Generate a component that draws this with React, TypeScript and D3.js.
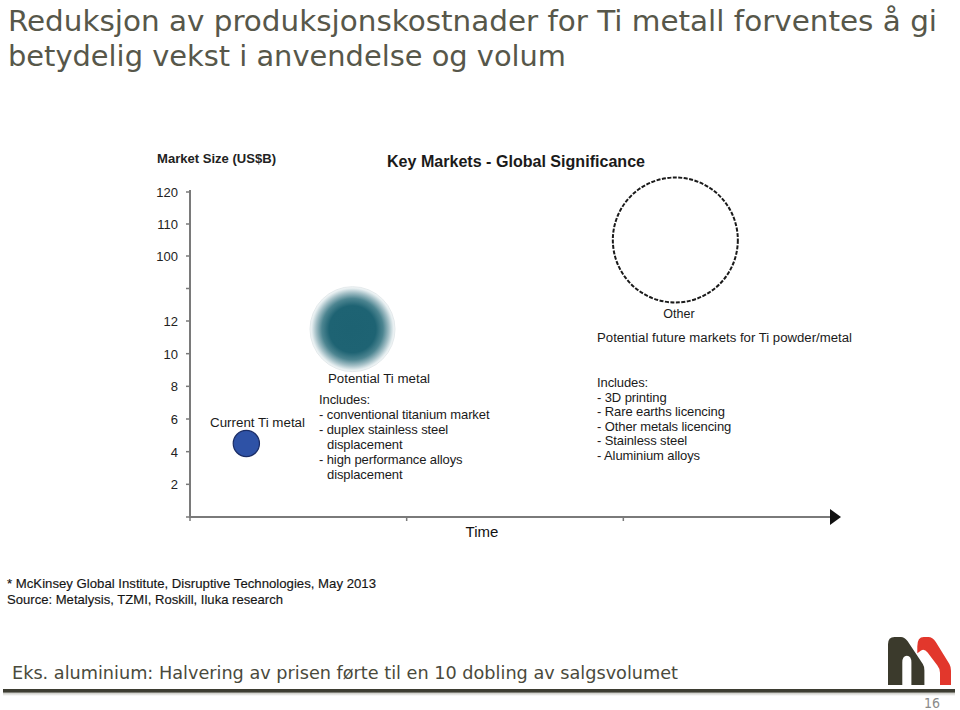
import React from "react";
import * as d3 from "d3";

// ---- data ----
const titleLines = [
  "Reduksjon av produksjonskostnader for Ti metall forventes å gi",
  "betydelig vekst i anvendelse og volum",
];
const yTickLabels = ["", "2", "4", "6", "8", "10", "12", "", "100", "110", "120"];
const yTickValues = [0, 2, 4, 6, 8, 10, 12, 56, 100, 110, 120];
const xTickValues = [0, 1, 2];
const bubbleNames = ["Current Ti metal", "Potential Ti metal", "Other"];
const bubbleTime = [0.26, 0.75, 2.24];
const bubbleValue = [4.5, 11.5, 105];
const bubbleSize = [0.21, 0.68, 1.0];
const potentialIncludes = [
  "Includes:",
  "- conventional titanium market",
  "- duplex stainless steel",
  "  displacement",
  "- high performance alloys",
  "  displacement",
];
const otherIncludes = [
  "Includes:",
  "- 3D printing",
  "- Rare earths licencing",
  "- Other metals licencing",
  "- Stainless steel",
  "- Aluminium alloys",
];
const footnotes = [
  "* McKinsey Global Institute, Disruptive Technologies, May 2013",
  "Source: Metalysis, TZMI, Roskill, Iluka research",
];
const bottomText = "Eks. aluminium: Halvering av prisen førte til en 10 dobling av salgsvolumet";
const pageNumber = "16";

export default function App() {
  const x0 = 190;
  const yBase = 517;
  const x = d3.scaleLinear().domain([0, 3]).range([x0, 840]);
  const y = d3.scaleLinear().domain([0, 12, 100, 120]).range([yBase, 321, 256, 192]);
  const r = d3.scaleLinear().domain([0, 1]).range([0, 62.5]);
  const arial = "'Liberation Sans', Arial, sans-serif";
  const verdana = "'DejaVu Sans Condensed', 'DejaVu Sans', Verdana, sans-serif";

  const cur = { cx: x(bubbleTime[0]), cy: y(bubbleValue[0]), r: r(bubbleSize[0]) };
  const pot = { cx: x(bubbleTime[1]), cy: y(bubbleValue[1]), r: r(bubbleSize[1]) };
  const oth = { cx: x(bubbleTime[2]), cy: y(bubbleValue[2]), r: r(bubbleSize[2]) };

  return (
    <svg width={960} height={710} style={{ position: "absolute", left: 0, top: 0, background: "#fff" }}>
      <defs>
        <radialGradient id="tealGrad" cx="50%" cy="50%" r="50%">
          <stop offset="0%" stopColor="#1d6272" />
          <stop offset="55%" stopColor="#1e6373" />
          <stop offset="72%" stopColor="#4d8591" />
          <stop offset="86%" stopColor="#a3bfc6" />
          <stop offset="96%" stopColor="#e6eef0" />
          <stop offset="100%" stopColor="#f4f7f8" />
        </radialGradient>
        <linearGradient id="shadowGrad" x1="0" x2="0" y1="0" y2="1">
          <stop offset="0%" stopColor="#9a9a90" />
          <stop offset="100%" stopColor="#ffffff" />
        </linearGradient>
      </defs>

      {/* title */}
      <text x={8} y={31} fontFamily={verdana} fontSize={29} fill="#57574a" textLength={929} lengthAdjust="spacingAndGlyphs">
        {titleLines[0]}
      </text>
      <text x={8} y={66} fontFamily={verdana} fontSize={29} fill="#57574a" textLength={558} lengthAdjust="spacingAndGlyphs">
        {titleLines[1]}
      </text>

      {/* chart headers */}
      <text x={157} y={163} fontFamily={arial} fontSize={12.5} fontWeight="bold" fill="#222" textLength={119} lengthAdjust="spacingAndGlyphs">
        Market Size (US$B)
      </text>
      <text x={387} y={167} fontFamily={arial} fontSize={16} fontWeight="bold" fill="#1a1a1a" textLength={258} lengthAdjust="spacingAndGlyphs">
        Key Markets - Global Significance
      </text>

      {/* y axis */}
      <line x1={x0} x2={x0} y1={190} y2={yBase + 1} stroke="#7a7a7a" strokeWidth={2} />
      {yTickValues.map((v, i) => (
        <g key={"yt" + i}>
          <line x1={x0 - 4} x2={x0} y1={y(v)} y2={y(v)} stroke="#7a7a7a" strokeWidth={1.5} />
          {yTickLabels[i] && (
            <text x={178} y={y(v) + 5} textAnchor="end" fontFamily={arial} fontSize={13} fill="#222">
              {yTickLabels[i]}
            </text>
          )}
        </g>
      ))}

      {/* x axis */}
      <line x1={x0 - 1} x2={832} y1={yBase} y2={yBase} stroke="#7a7a7a" strokeWidth={2} />
      <path d={`M830,${yBase - 8} L841,${yBase} L830,${yBase + 8} Z`} fill="#111" />
      {xTickValues.map((v) => (
        <line key={"xt" + v} x1={x(v)} x2={x(v)} y1={yBase} y2={yBase + 4} stroke="#7a7a7a" strokeWidth={1.5} />
      ))}
      <text x={482} y={537} textAnchor="middle" fontFamily={arial} fontSize={15} fill="#111">
        Time
      </text>

      {/* bubbles */}
      <circle cx={cur.cx} cy={cur.cy} r={cur.r} fill="#2e52a6" stroke="#1b2d66" strokeWidth={1.2} />
      <circle cx={pot.cx} cy={pot.cy} r={pot.r} fill="url(#tealGrad)" />
      <circle cx={pot.cx} cy={pot.cy} r={pot.r} fill="none" stroke="#e4eaec" strokeWidth={1} />
      <circle cx={oth.cx} cy={oth.cy} r={oth.r} fill="none" stroke="#1a1a1a" strokeWidth={2} strokeDasharray="4 1.5" />

      {/* bubble labels */}
      <text x={210} y={427} fontFamily={arial} fontSize={12.5} fill="#1a1a1a" textLength={95} lengthAdjust="spacingAndGlyphs">
        {bubbleNames[0]}
      </text>
      <text x={328} y={383} fontFamily={arial} fontSize={12.5} fill="#1a1a1a" textLength={102} lengthAdjust="spacingAndGlyphs">
        {bubbleNames[1]}
      </text>
      <text x={679} y={318} textAnchor="middle" fontFamily={arial} fontSize={12.5} fill="#1a1a1a">
        {bubbleNames[2]}
      </text>
      <text x={597} y={342} fontFamily={arial} fontSize={12.5} fill="#1a1a1a" textLength={255} lengthAdjust="spacingAndGlyphs">
        Potential future markets for Ti powder/metal
      </text>

      {potentialIncludes.map((t, i) => (
        <text key={"pi" + i} x={t.startsWith("  ") ? 327 : 319} y={404 + i * 15} fontFamily={arial} fontSize={13} fill="#1a1a1a" letterSpacing={-0.1}>
          {t.trim()}
        </text>
      ))}
      {otherIncludes.map((t, i) => (
        <text key={"oi" + i} x={597} y={387 + i * 14.6} fontFamily={arial} fontSize={13} fill="#1a1a1a" letterSpacing={-0.1}>
          {t}
        </text>
      ))}

      {/* footnotes */}
      <text x={7} y={588} fontFamily={arial} fontSize={13} fill="#151515" stroke="#151515" strokeWidth={0.15} textLength={369} lengthAdjust="spacingAndGlyphs">
        {footnotes[0]}
      </text>
      <text x={7} y={604} fontFamily={arial} fontSize={13} fill="#151515" stroke="#151515" strokeWidth={0.15} textLength={276} lengthAdjust="spacingAndGlyphs">
        {footnotes[1]}
      </text>

      {/* bottom text */}
      <text x={12} y={679} fontFamily={verdana} fontSize={18.5} fill="#4a4a3c" textLength={666} lengthAdjust="spacingAndGlyphs">
        {bottomText}
      </text>

      {/* bottom rule */}
      <rect x={3} y={692} width={952} height={4} fill="url(#shadowGrad)" opacity={0.7} />
      <rect x={3} y={689} width={952} height={3.5} fill="#3d3d32" />

      {/* logo */}
      <path
        d="M888,685 L888,644.3 Q888,637 894.5,637 L901,637 Q904.2,637 907.5,641 L922.8,663.9 Q924.4,666.3 924.4,670.4 L924.4,685 L911.4,685 L911.4,662.6 Q911.4,655.7 906.9,655.7 Q902.3,655.7 902.3,662.6 L902.3,685 Z"
        fill="#3b3a2c"
      />
      <path
        d="M917.3,653.3 L917.3,646.4 Q917.3,637 923.8,637 L928.3,637 Q932.5,637 935.8,641.9 L949.4,663.9 Q951,666.7 951,670.8 L951,685 L940,685 L940,672.8 Q940,668.7 937.4,665.5 L927.6,652.5 Q924.4,648.4 921.1,650.4 Z"
        fill="#e2372c"
      />

      <text x={940} y={708} textAnchor="end" fontFamily={verdana} fontSize={14} fill="#8a8a8a">
        {pageNumber}
      </text>
    </svg>
  );
}
